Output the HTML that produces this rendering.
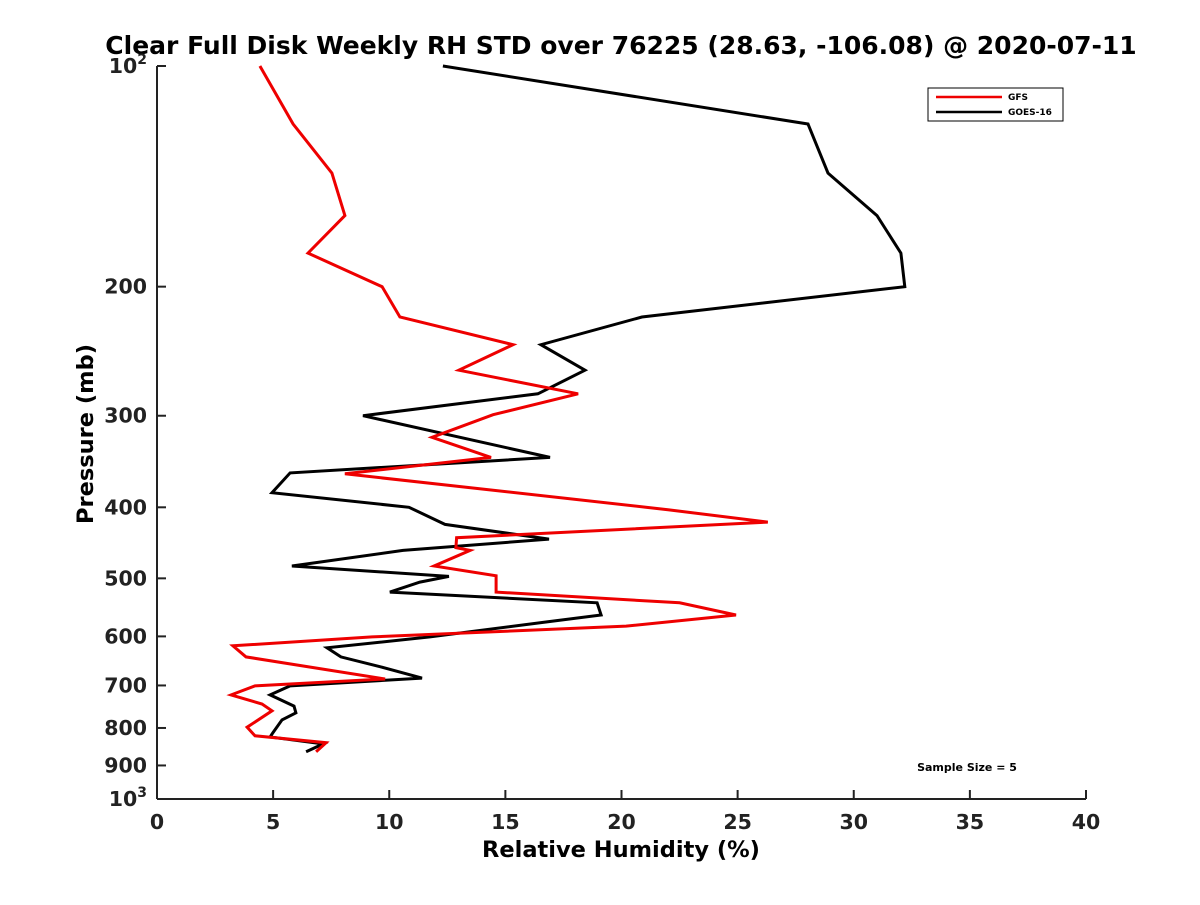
<!DOCTYPE html>
<html><head><meta charset="utf-8"><style>
body{margin:0;background:#fff;}
svg{font-family:"DejaVu Sans","Liberation Sans",sans-serif;font-weight:bold;}
</style></head><body>
<svg id="chart" width="1200" height="900">
<rect width="1200" height="900" fill="#fff"/>
<text x="621" y="54" text-anchor="middle" font-size="25">Clear Full Disk Weekly RH STD over 76225 (28.63, -106.08) @ 2020-07-11</text>
<g id="axes"></g>
<g id="series"></g>
<text x="621" y="857" text-anchor="middle" font-size="22.5">Relative Humidity (%)</text>
<text transform="translate(93,434) rotate(-90)" text-anchor="middle" font-size="22.5">Pressure (mb)</text>
<g>
<rect x="928" y="88" width="135" height="33" fill="#fff" stroke="#000" stroke-width="1"/>
<line x1="936" y1="97" x2="1002" y2="97" stroke="#e00" stroke-width="2.5"/>
<text x="1008" y="100" font-size="9">GFS</text>
<line x1="936" y1="112" x2="1002" y2="112" stroke="#000" stroke-width="2.5"/>
<text x="1008" y="115" font-size="9">GOES-16</text>
</g>
<text x="967" y="771" text-anchor="middle" font-size="11">Sample Size = 5</text>
</svg>
<script>
const xTicks=[0,5,10,15,20,25,30,35,40];
const yTicks=[100,200,300,400,500,600,700,800,900,1000];
const gfsP=[100,120,140,160,180,200,220,240,260,280,299,321,342,360,403,419,440,454,458,481,496,522,540,561,581,601,618,640,686,701,721,742,758,798,820,838,862];
const gfsV=[4.43,5.86,7.53,8.09,6.5,9.69,10.46,15.33,13.0,18.13,14.47,11.84,14.38,8.09,22.0,26.3,12.9,12.87,13.48,11.93,14.6,14.6,22.5,24.93,20.2,9.26,3.27,3.83,9.82,4.22,3.19,4.52,4.95,3.88,4.22,7.28,6.85];
const goesP=[100,120,140,160,180,200,220,240,260,280,300,342,359,382,400,422,442,458,481,497,506,522,540,561,573,601,622,640,660,684,701,721,747,763,780,812,823,841,862];
const goesV=[12.31,28.03,28.89,31.0,32.03,32.2,20.88,16.53,18.43,16.4,8.87,16.92,5.73,4.95,10.85,12.4,16.88,10.59,5.81,12.57,11.32,10.03,18.95,19.12,16.83,11.75,7.32,7.92,9.6,11.41,5.73,4.87,5.9,5.98,5.38,4.99,4.87,7.15,6.42];
const NS='http://www.w3.org/2000/svg';
const X0=157,X1=1086,Y0=66,Y1=799;
function xs(v){return X0+(v-0)/40*(X1-X0);}
function ys(p){return Y0+(Math.log10(p)-2)*(Y1-Y0);}
function mk(tag,attrs,parent){const e=document.createElementNS(NS,tag);for(const k in attrs)e.setAttribute(k,attrs[k]);parent.appendChild(e);return e;}
const ax=document.getElementById('axes');
let l=mk('line',{x1:X0,y1:Y0,x2:X0,y2:Y1,stroke:'#222','stroke-width':2},ax);


l=mk('line',{x1:X0,y1:Y1,x2:X1,y2:Y1,stroke:'#222','stroke-width':2},ax);


xTicks.forEach(v=>{const x=xs(v);
 mk('line',{x1:x,y1:Y1,x2:x,y2:Y1-9,stroke:'#222','stroke-width':2},ax);
 const t=mk('text',{x:x,y:Y1+30,'text-anchor':'middle','font-size':20.5,fill:'#222'},ax);t.textContent=v;
 
 
});
yTicks.forEach(p=>{const y=ys(p);
 mk('line',{x1:X0,y1:y,x2:X0+9,y2:y,stroke:'#222','stroke-width':2},ax);
 const t=mk('text',{x:X0-10,y:y+7,'text-anchor':'end','font-size':20.5,fill:'#222'},ax);
 if(p===100||p===1000){t.textContent='10';const s=mk('tspan',{'font-size':14,dy:-9},t);s.textContent=p===100?'2':'3';}
 else t.textContent=p;
 
 
});
const sg=document.getElementById('series');
function line(P,V,color,name){
 const pts=P.map((p,i)=>xs(V[i]).toFixed(1)+','+ys(p).toFixed(1)).join(' ');
 const e=mk('polyline',{points:pts,fill:'none',stroke:color,'stroke-width':3,'stroke-linejoin':'miter'},sg);
 
 
}
line(goesP,goesV,'#000','goes16-line');
line(gfsP,gfsV,'#e00','gfs-line');
</script>
</body></html>
